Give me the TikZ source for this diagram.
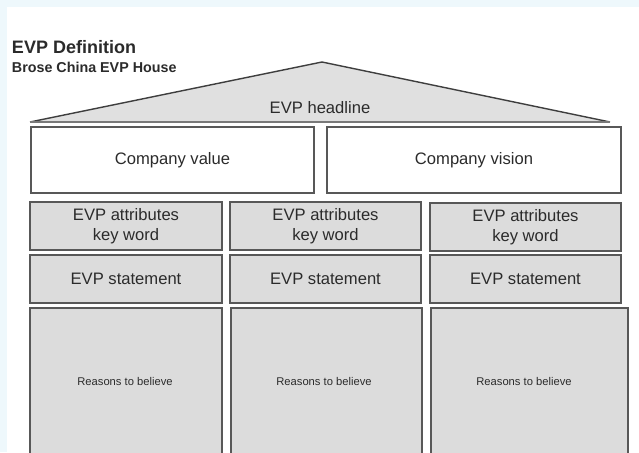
\documentclass[tikz,border=0pt]{standalone}
\usepackage{fontspec}
\setmainfont{Liberation Sans}
\begin{document}
\begin{tikzpicture}[x=1pt,y=-1pt,
  every node/.style={text=txt, inner sep=0pt, outer sep=0pt},
  lbl/.style={font=\fontsize{16.6}{20}\selectfont, align=center},
  small/.style={font=\fontsize{11.2}{13}\selectfont},
  whitebox/.style={draw=edge, line width=1.3pt, fill=white},
  greybox/.style={draw=edge, line width=1.4pt, fill=boxfill},
]
\definecolor{txt}{HTML}{2B2B2B}
\definecolor{edge}{HTML}{585858}
\definecolor{boxfill}{HTML}{DCDCDC}
\definecolor{rooffill}{HTML}{E0E0E0}
\definecolor{band}{HTML}{EEF8FC}

\clip (0,0) rectangle (639,452);
\fill[white] (0,0) rectangle (639,452);
\fill[band] (0,0) rectangle (639,7);
\fill[band] (0,0) rectangle (7,452);

% heading
\node[anchor=base west, font=\fontsize{18}{20}\bfseries\selectfont] (title) at (12,53) {EVP Definition};
\node[anchor=base west, font=\fontsize{14.3}{16}\bfseries\selectfont] (subtitle) at (12,72) {Brose China EVP House};

% roof
\coordinate (roofL) at (30,122);
\coordinate (roofT) at (322,62);
\coordinate (roofR) at (610,122);
\fill[rooffill] (roofL) -- (roofT) -- (roofR) -- cycle;
\draw[edge!70!black, line width=1.4pt, line join=round] (roofL) -- (roofT) -- (roofR);
\draw[edge!80, line width=2.6pt] (roofL) -- (roofR);
\node[lbl] (headline) at (320,108) {EVP headline};

% company row
\node[whitebox, minimum width=283pt, minimum height=66pt, lbl] (value) at (172.5,160) {Company value};
\node[whitebox, minimum width=294pt, minimum height=66pt, lbl] (vision) at (474,160) {Company vision};

% attribute row
\node[greybox, minimum width=192pt, minimum height=48pt, lbl] (attr1) at (126,226) {EVP attributes\\key word};
\node[greybox, minimum width=191pt, minimum height=48pt, lbl] (attr2) at (325.5,226) {EVP attributes\\key word};
\node[greybox, minimum width=191pt, minimum height=48pt, lbl] (attr3) at (525.5,227) {EVP attributes\\key word};

% statement row
\node[greybox, minimum width=192pt, minimum height=48pt, lbl] (stmt1) at (126,279) {EVP statement};
\node[greybox, minimum width=191pt, minimum height=48pt, lbl] (stmt2) at (325.5,279) {EVP statement};
\node[greybox, minimum width=191pt, minimum height=48pt, lbl] (stmt3) at (525.5,279) {EVP statement};

% reasons row
\node[greybox, minimum width=192pt, minimum height=152pt] (why1) at (126,384) {};
\node[greybox, minimum width=191pt, minimum height=152pt] (why2) at (326.5,384) {};
\node[greybox, minimum width=197pt, minimum height=152pt] (why3) at (529.5,384) {};
\node[small] (why1text) at (125,381) {Reasons to believe};
\node[small] (why2text) at (324,381) {Reasons to believe};
\node[small] (why3text) at (524,381) {Reasons to believe};
\end{tikzpicture}
\end{document}
